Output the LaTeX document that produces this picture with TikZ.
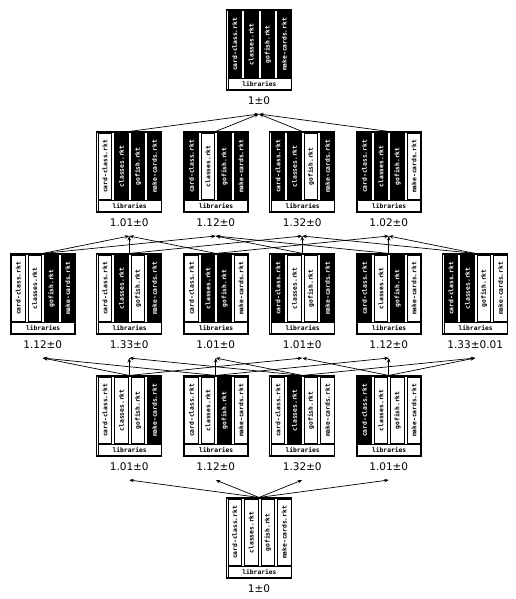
\documentclass[tikz,border=0pt]{standalone}
\usepackage{fontspec}
\setmainfont{DejaVu Sans}
\setmonofont{DejaVu Sans Mono}
\usetikzlibrary{arrows.meta}
\tikzset{
  box/.style={draw, line width=1.1pt, minimum width=65pt, minimum height=80pt, inner sep=0pt, fill=white},
  bar/.style={draw, line width=0.8pt, minimum width=13.5pt, minimum height=66pt, inner sep=0pt, anchor=north west},
  barB/.style={fill=black},
  barW/.style={fill=white},
  txtB/.style={text=white},
  txtW/.style={text=black},
  bartext/.style={rotate=90, inner sep=0pt, font=\ttfamily\bfseries\fontsize{6.3}{7}\selectfont},
  libbox/.style={draw, line width=0.8pt, minimum width=63pt, minimum height=11pt, inner sep=0pt, anchor=north west, fill=white, font=\ttfamily\bfseries\fontsize{6.3}{7}\selectfont},
  score/.style={font=\fontsize{10.5}{12}\selectfont, inner sep=0pt},
  edge/.style={line width=0.7pt, -{Stealth[length=4.5pt,width=3.5pt]}},
}
\newcommand{\latnode}[8]{%
  \node[box] (#1) at (#2,#3+40) {};
  \node[bar,bar#4] (#1-1) at (#2-31.5,#3+1) {};
  \node[bar,bar#5] (#1-2) at (#2-15,#3+1) {};
  \node[bar,bar#6] (#1-3) at (#2+1.5,#3+1) {};
  \node[bar,bar#7] (#1-4) at (#2+18,#3+1) {};
  \node[bartext,txt#4] (#1-t1) at (#1-1.center) {card-class.rkt};
  \node[bartext,txt#5] (#1-t2) at (#1-2.center) {classes.rkt};
  \node[bartext,txt#6] (#1-t3) at (#1-3.center) {gofish.rkt};
  \node[bartext,txt#7] (#1-t4) at (#1-4.center) {make-cards.rkt};
  \node[libbox] (#1-lib) at (#2-31.5,#3+68) {libraries};
  \node[score] (#1-l) at (#2,#3+91) {#8};
  \coordinate (#1-a) at (#2,#3+104);
}
\begin{document}
\begin{tikzpicture}[x=1pt,y=-1pt]
\useasboundingbox (0,0) rectangle (516,599);
% level 0
\latnode{r}{259}{10}{B}{B}{B}{B}{1±0}
% level 1
\latnode{a}{129.25}{132}{W}{B}{B}{B}{1.01±0}
\latnode{b}{215.75}{132}{B}{W}{B}{B}{1.12±0}
\latnode{c}{302.25}{132}{B}{B}{W}{B}{1.32±0}
\latnode{d}{388.75}{132}{B}{B}{B}{W}{1.02±0}
% level 2
\latnode{n1}{42.75}{254}{W}{W}{B}{B}{1.12±0}
\latnode{n2}{129.25}{254}{W}{B}{W}{B}{1.33±0}
\latnode{n3}{215.75}{254}{W}{B}{B}{W}{1.01±0}
\latnode{n4}{302.25}{254}{B}{W}{W}{B}{1.01±0}
\latnode{n5}{388.75}{254}{B}{W}{B}{W}{1.12±0}
\latnode{n6}{475.25}{254}{B}{B}{W}{W}{1.33±0.01}
% level 3
\latnode{m1}{129.25}{376}{W}{W}{W}{B}{1.01±0}
\latnode{m2}{215.75}{376}{W}{W}{B}{W}{1.12±0}
\latnode{m3}{302.25}{376}{W}{B}{W}{W}{1.32±0}
\latnode{m4}{388.75}{376}{B}{W}{W}{W}{1.01±0}
% level 4
\latnode{z}{259}{498}{W}{W}{W}{W}{1±0}
% edges level 1 -> 0
\foreach \u in {a,b,c,d} \draw[edge] (\u.north) -- (r-a);
% edges level 2 -> 1
\draw[edge] (n1.north) -- (a-a);
\draw[edge] (n1.north) -- (b-a);
\draw[edge] (n2.north) -- (a-a);
\draw[edge] (n2.north) -- (c-a);
\draw[edge] (n3.north) -- (a-a);
\draw[edge] (n3.north) -- (d-a);
\draw[edge] (n4.north) -- (b-a);
\draw[edge] (n4.north) -- (c-a);
\draw[edge] (n5.north) -- (b-a);
\draw[edge] (n5.north) -- (d-a);
\draw[edge] (n6.north) -- (c-a);
\draw[edge] (n6.north) -- (d-a);
% edges level 3 -> 2
\draw[edge] (m1.north) -- (n1-a);
\draw[edge] (m1.north) -- (n2-a);
\draw[edge] (m1.north) -- (n4-a);
\draw[edge] (m2.north) -- (n1-a);
\draw[edge] (m2.north) -- (n3-a);
\draw[edge] (m2.north) -- (n5-a);
\draw[edge] (m3.north) -- (n2-a);
\draw[edge] (m3.north) -- (n3-a);
\draw[edge] (m3.north) -- (n6-a);
\draw[edge] (m4.north) -- (n4-a);
\draw[edge] (m4.north) -- (n5-a);
\draw[edge] (m4.north) -- (n6-a);
% edges level 4 -> 3
\foreach \u in {m1,m2,m3,m4} \draw[edge] (z.north) -- (\u-a);
\end{tikzpicture}
\end{document}
